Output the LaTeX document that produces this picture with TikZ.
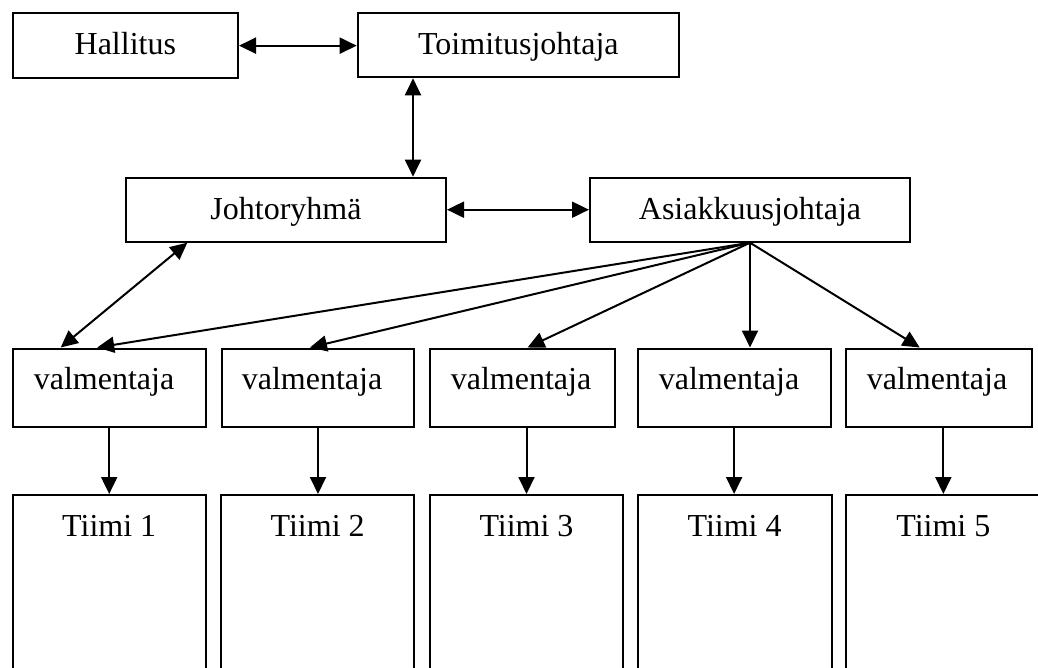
\documentclass[tikz,border=0pt]{standalone}
\usepackage{fontspec}
\setmainfont{Liberation Serif}
\usetikzlibrary{arrows.meta,calc}
\tikzset{
  box/.style={draw, rectangle, line width=2pt, inner sep=0pt},
  lbl/.style={font=\fontsize{32}{38}\selectfont, anchor=base, inner sep=0pt},
  conn/.style={line width=2pt, -{Triangle[length=17pt,width=16pt]}},
  biconn/.style={line width=2pt, {Triangle[length=17pt,width=16pt]}-{Triangle[length=17pt,width=16pt]}},
}
\begin{document}
\begin{tikzpicture}[x=1pt,y=-1pt]
\useasboundingbox (0,0) rectangle (1038,668);
\clip (0,0) rectangle (1038,668);

% top level
\node[box, minimum width=225.3pt, minimum height=64.7pt] (hall) at (125.35,45.65) {};
\node[box, minimum width=321.3pt, minimum height=64pt] (toim) at (518.35,45.3) {};
\node[lbl] (hall-t) at (hall.center |- 0,55) {Hallitus};
\node[lbl] (toim-t) at (toim.center |- 0,55) {Toimitusjohtaja};

% management level
\node[box, minimum width=320pt, minimum height=64pt] (johto) at (286,209.7) {};
\node[box, minimum width=320pt, minimum height=64pt] (asiak) at (750,209.7) {};
\node[lbl] (johto-t) at (johto.center |- 0,219.3) {Johtoryhmä};
\node[lbl] (asiak-t) at (asiak.center |- 0,219.3) {Asiakkuusjohtaja};

% coaches
\node[box, minimum width=193pt,   minimum height=78pt] (v1) at (109.2,387.5) {};
\node[box, minimum width=192.6pt, minimum height=78pt] (v2) at (318,387.5) {};
\node[box, minimum width=185pt,   minimum height=78pt] (v3) at (522.5,387.5) {};
\node[box, minimum width=192.8pt, minimum height=78pt] (v4) at (734.1,387.5) {};
\node[box, minimum width=186pt,   minimum height=78pt] (v5) at (938.7,387.5) {};
\node[lbl] (v1-t) at (104,389) {valmentaja};
\node[lbl] (v2-t) at (312,389) {valmentaja};
\node[lbl] (v3-t) at (521,389) {valmentaja};
\node[lbl] (v4-t) at (729,389) {valmentaja};
\node[lbl] (v5-t) at (937,389) {valmentaja};

% teams
\node[box, minimum width=193pt,   minimum height=195pt] (t1) at (109.2,592.5) {};
\node[box, minimum width=193.3pt, minimum height=195pt] (t2) at (317.65,592.5) {};
\node[box, minimum width=193pt,   minimum height=195pt] (t3) at (526.5,592.5) {};
\node[box, minimum width=193.8pt, minimum height=195pt] (t4) at (734.6,592.5) {};
\node[box, minimum width=195.3pt, minimum height=195pt] (t5) at (943.35,592.5) {};
\node[lbl] (t1-t) at (t1.center |- 0,536) {Tiimi 1};
\node[lbl] (t2-t) at (t2.center |- 0,536) {Tiimi 2};
\node[lbl] (t3-t) at (t3.center |- 0,536) {Tiimi 3};
\node[lbl] (t4-t) at (t4.center |- 0,536) {Tiimi 4};
\node[lbl] (t5-t) at (t5.center |- 0,536) {Tiimi 5};

% two-way links
\draw[biconn] (hall.east) -- (toim.west |- hall.east);
\path ($(toim.south west)+(56.3,0)$) coordinate (tj);
\draw[biconn] (tj) -- (tj |- johto.north);
\draw[biconn] (johto.east) -- (asiak.west);
\draw[biconn] ($(johto.south west)+(62.3,0)$) -- ($(v1.north west)+(49,0)$);

% fan from Asiakkuusjohtaja
\draw[conn] (asiak.south) -- ($(v1.north)+(-12,0)$);
\draw[conn] (asiak.south) -- ($(v2.north)+(-8,0)$);
\draw[conn] (asiak.south) -- ($(v3.north)+(5,0)$);
\draw[conn] (asiak.south) -- (asiak.south |- v4.north);
\draw[conn] (asiak.south) -- ($(v5.north)+(-19,0)$);

% coaches to teams
\draw[conn] (v1.south) -- (v1.south |- t1.north);
\draw[conn] (v2.south) -- (v2.south |- t2.north);
\draw[conn] (t3.north |- v3.south) -- (t3.north);
\draw[conn] (v4.south) -- (v4.south |- t4.north);
\draw[conn] (t5.north |- v5.south) -- (t5.north);
\end{tikzpicture}
\end{document}
